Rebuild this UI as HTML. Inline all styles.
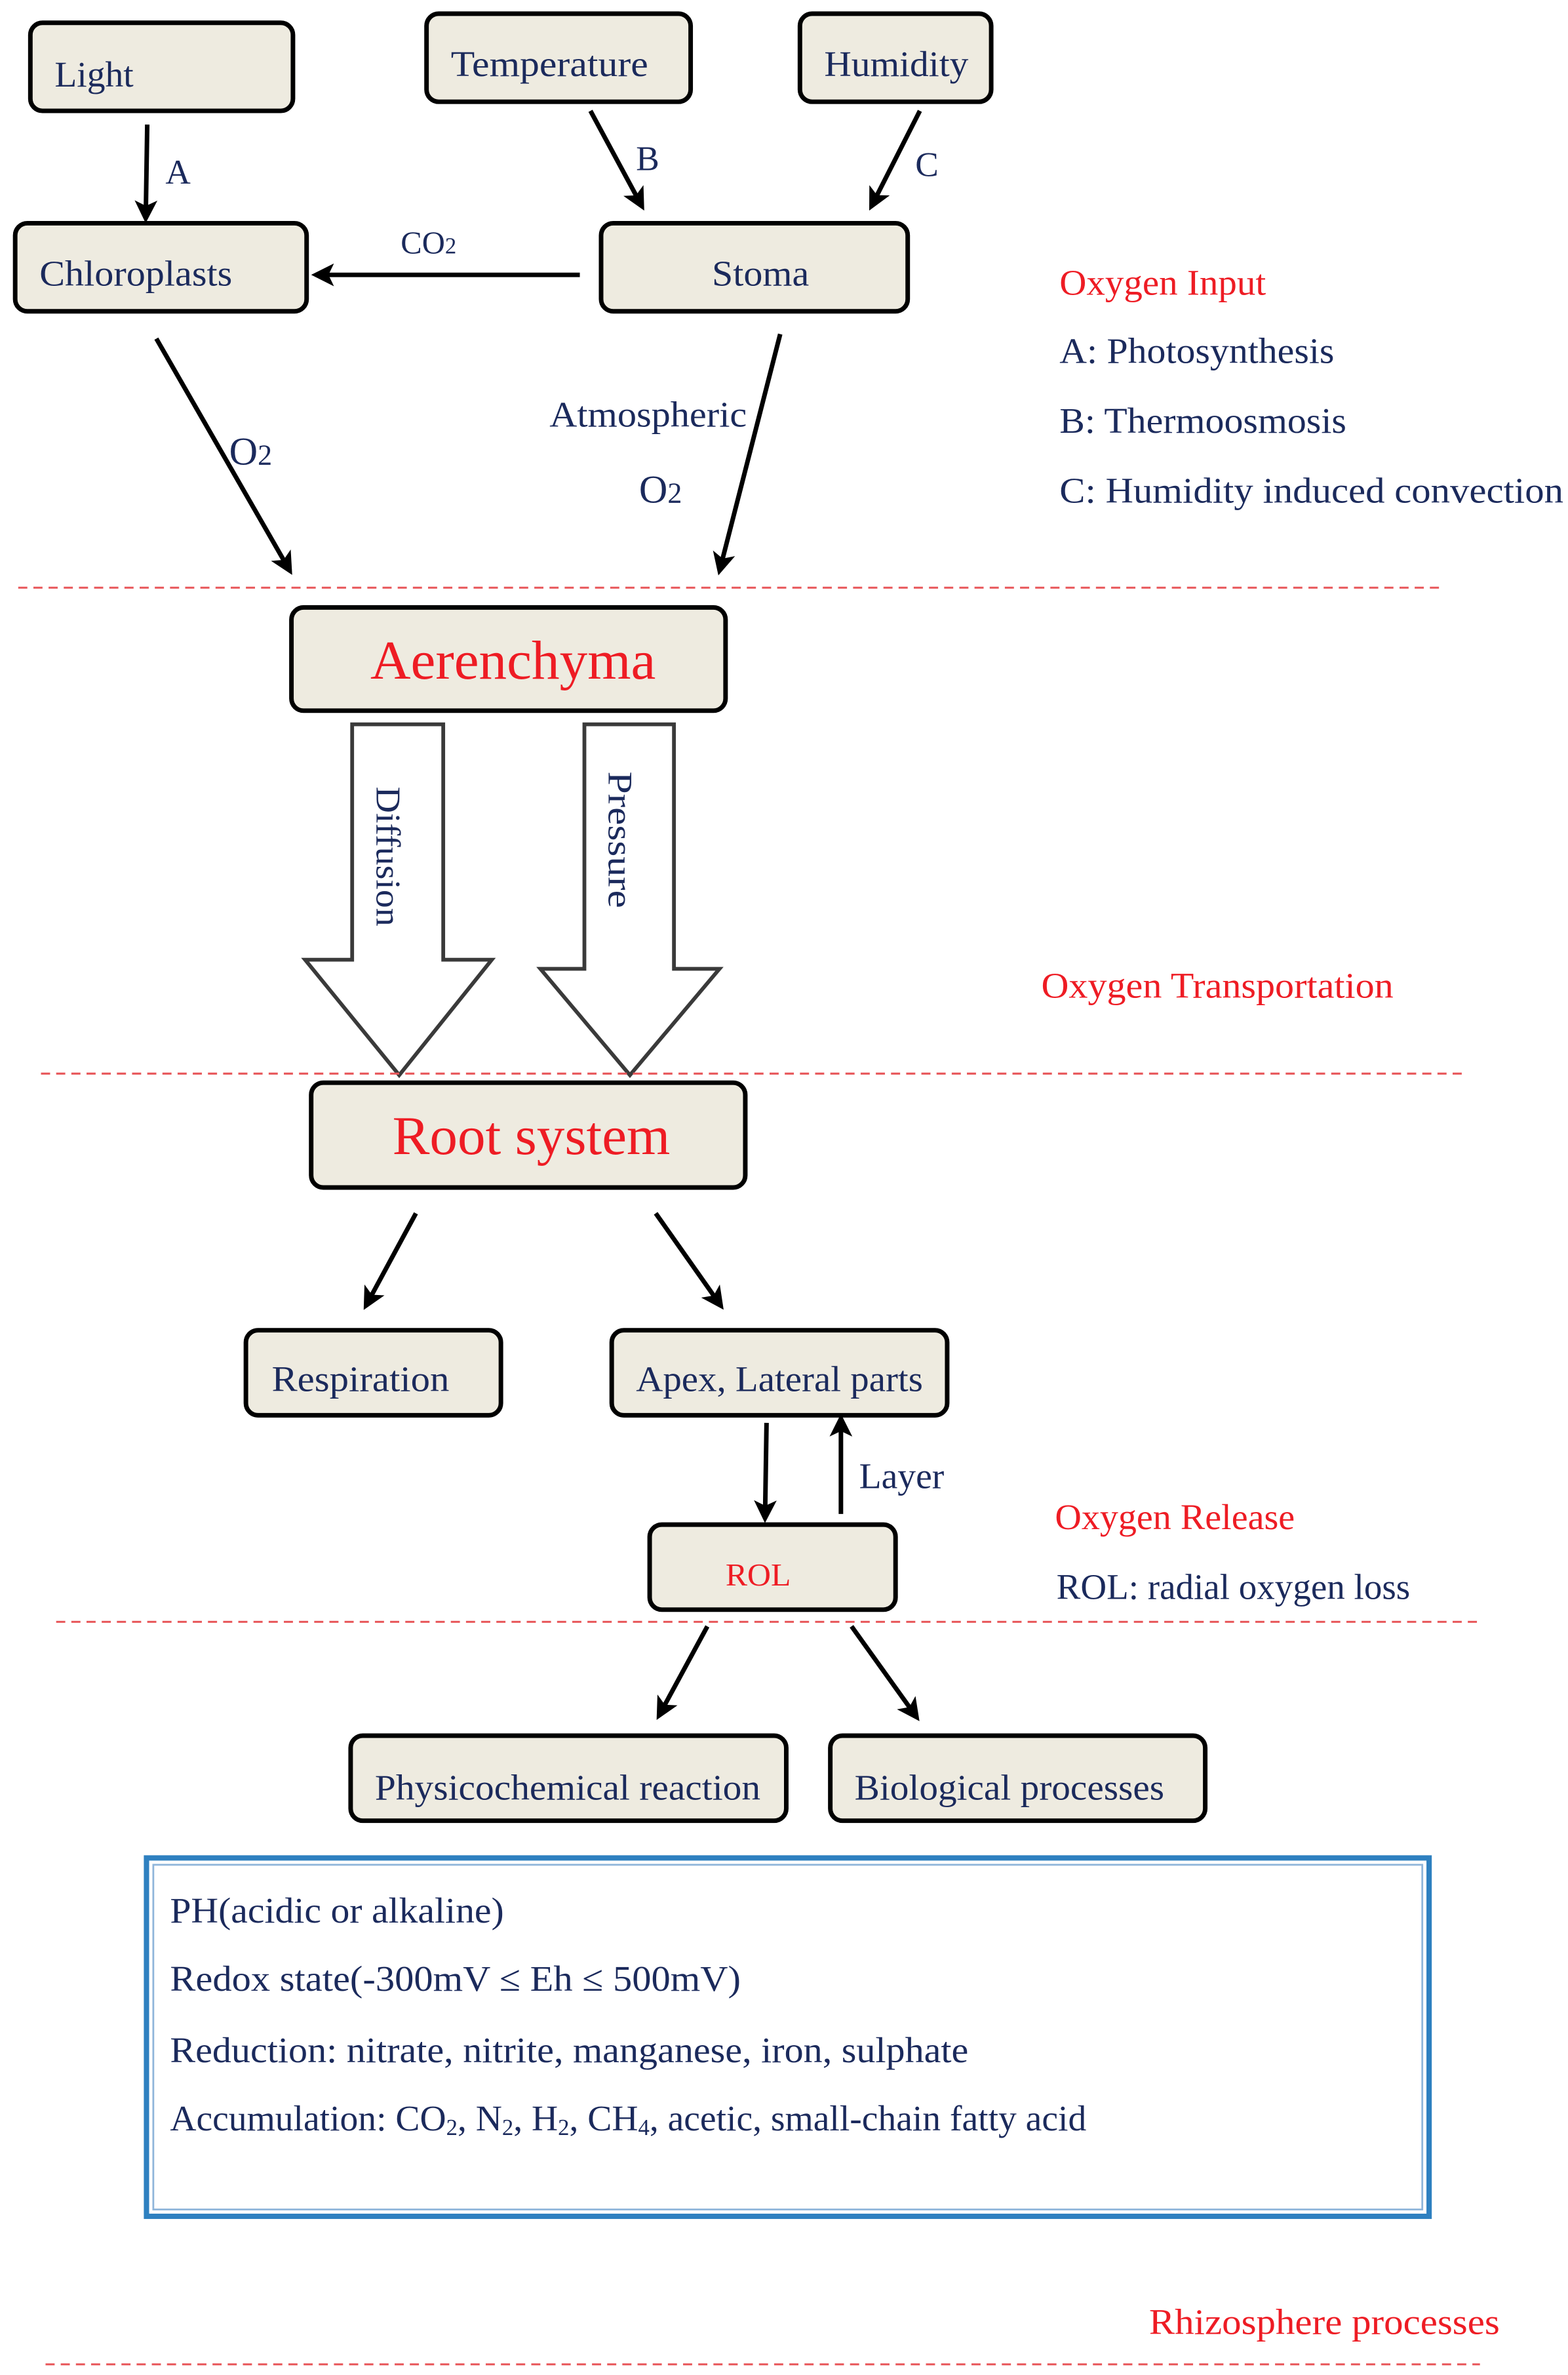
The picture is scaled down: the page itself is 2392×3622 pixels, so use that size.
<!DOCTYPE html>
<html><head><meta charset="utf-8"><style>
html,body{margin:0;padding:0;background:#fff;}
svg{display:block;}
text{font-family:"Liberation Serif",serif;fill:#1b2a5c;}
.r{fill:#ee1c24;}
.b{fill:#eeebe0;stroke:#000;stroke-width:3;}
.a{stroke:#000;stroke-width:3;fill:none;marker-end:url(#ah);}
.d{stroke:#e8575a;stroke-width:1.3;stroke-dasharray:6,4;}
</style></head><body>
<svg width="2392" height="3622" viewBox="0 0 1033 1564" preserveAspectRatio="none" xmlns="http://www.w3.org/2000/svg">
<defs><marker id="ah" markerWidth="5" markerHeight="5" refX="4" refY="2.5" orient="auto" markerUnits="strokeWidth"><path d="M0,0 L5,2.5 L0,5 L1.2,2.5 z" fill="#000"/></marker></defs>

<rect class="b" x="20" y="15" width="173" height="58" rx="8"/>
<text x="36" y="57" font-size="24" textLength="52" lengthAdjust="spacingAndGlyphs">Light</text>
<rect class="b" x="281" y="9" width="174" height="58" rx="8"/>
<text x="297" y="50" font-size="24" textLength="130" lengthAdjust="spacingAndGlyphs">Temperature</text>
<rect class="b" x="527" y="9" width="126" height="58" rx="8"/>
<text x="543" y="50" font-size="24" textLength="95" lengthAdjust="spacingAndGlyphs">Humidity</text>

<line class="a" x1="97" y1="82" x2="96" y2="144"/>
<text x="109" y="121" font-size="23">A</text>
<line class="a" x1="389" y1="73" x2="423" y2="136"/>
<text x="419" y="112" font-size="23">B</text>
<line class="a" x1="606" y1="73" x2="574" y2="136"/>
<text x="603" y="116" font-size="23">C</text>

<rect class="b" x="10" y="147" width="192" height="58" rx="8"/>
<text x="26" y="188" font-size="24" textLength="127" lengthAdjust="spacingAndGlyphs">Chloroplasts</text>
<rect class="b" x="396" y="147" width="202" height="58" rx="8"/>
<text x="469" y="188" font-size="24" textLength="64" lengthAdjust="spacingAndGlyphs">Stoma</text>

<line class="a" x1="382" y1="181" x2="208" y2="181"/>
<text x="264" y="167" font-size="21">CO<tspan font-size="15">2</tspan></text>

<line class="a" x1="103" y1="223" x2="191" y2="376"/>
<text x="151" y="306" font-size="26">O<tspan font-size="19">2</tspan></text>
<line class="a" x1="514" y1="220" x2="474" y2="376"/>
<text x="362" y="281" font-size="24" textLength="130" lengthAdjust="spacingAndGlyphs">Atmospheric</text>
<text x="421" y="331" font-size="26">O<tspan font-size="19">2</tspan></text>

<text class="r" x="698" y="194" font-size="24" textLength="136" lengthAdjust="spacingAndGlyphs">Oxygen Input</text>
<text x="698" y="239" font-size="24" textLength="181" lengthAdjust="spacingAndGlyphs">A: Photosynthesis</text>
<text x="698" y="285" font-size="24" textLength="189" lengthAdjust="spacingAndGlyphs">B: Thermoosmosis</text>
<text x="698" y="331" font-size="24" textLength="332" lengthAdjust="spacingAndGlyphs">C:   Humidity induced convection</text>

<line class="d" x1="12" y1="387" x2="950" y2="387"/>

<rect class="b" x="192" y="400" width="286" height="68" rx="8"/>
<text class="r" x="338" y="447" font-size="36" text-anchor="middle" textLength="188" lengthAdjust="spacingAndGlyphs">Aerenchyma</text>

<path d="M232,477 L292,477 L292,632 L324,632 L263,708 L201,632 L232,632 Z" fill="#fff" stroke="#3a3a3a" stroke-width="2.5"/>
<text transform="translate(248,564) rotate(90)" font-size="23" text-anchor="middle" textLength="92" lengthAdjust="spacingAndGlyphs">Diffusion</text>
<path d="M385,477 L444,477 L444,638 L474,638 L415,708 L356,638 L385,638 Z" fill="#fff" stroke="#3a3a3a" stroke-width="2.5"/>
<text transform="translate(401,553) rotate(90)" font-size="23" text-anchor="middle" textLength="90" lengthAdjust="spacingAndGlyphs">Pressure</text>

<text class="r" x="686" y="657" font-size="24" textLength="232" lengthAdjust="spacingAndGlyphs">Oxygen Transportation</text>
<line class="d" x1="27" y1="707" x2="965" y2="707"/>

<rect class="b" x="205" y="713" width="286" height="69" rx="8"/>
<text class="r" x="350" y="760" font-size="36" text-anchor="middle" textLength="183" lengthAdjust="spacingAndGlyphs">Root system</text>

<line class="a" x1="274" y1="799" x2="241" y2="860"/>
<line class="a" x1="432" y1="799" x2="475" y2="860"/>

<rect class="b" x="162" y="876" width="168" height="56" rx="8"/>
<text x="179" y="916" font-size="24" textLength="117" lengthAdjust="spacingAndGlyphs">Respiration</text>
<rect class="b" x="403" y="876" width="221" height="56" rx="8"/>
<text x="419" y="916" font-size="24" textLength="189" lengthAdjust="spacingAndGlyphs">Apex, Lateral parts</text>

<line class="a" x1="505" y1="937" x2="504" y2="1000"/>
<line class="a" x1="554" y1="997" x2="554" y2="934"/>
<text x="566" y="980" font-size="24" textLength="56" lengthAdjust="spacingAndGlyphs">Layer</text>

<rect class="b" x="428" y="1004" width="162" height="56" rx="8"/>
<text class="r" x="478" y="1044" font-size="21" textLength="43" lengthAdjust="spacingAndGlyphs">ROL</text>

<text class="r" x="695" y="1007" font-size="24" textLength="158" lengthAdjust="spacingAndGlyphs">Oxygen Release</text>
<text x="696" y="1053" font-size="24" textLength="233" lengthAdjust="spacingAndGlyphs">ROL: radial oxygen loss</text>

<line class="d" x1="37" y1="1068" x2="975" y2="1068"/>

<line class="a" x1="466" y1="1071" x2="434" y2="1130"/>
<line class="a" x1="561" y1="1071" x2="604" y2="1131"/>

<rect class="b" x="231" y="1143" width="287" height="56" rx="8"/>
<text x="247" y="1185" font-size="24" textLength="254" lengthAdjust="spacingAndGlyphs">Physicochemical reaction</text>
<rect class="b" x="547" y="1143" width="247" height="56" rx="8"/>
<text x="563" y="1185" font-size="24" textLength="204" lengthAdjust="spacingAndGlyphs">Biological processes</text>

<rect x="96.5" y="1223.5" width="845" height="236" fill="#fff" stroke="#2e80c0" stroke-width="3.5"/>
<rect x="101" y="1228" width="836" height="227" fill="none" stroke="#8fb5da" stroke-width="1.2"/>
<text x="112" y="1266" font-size="24" textLength="220" lengthAdjust="spacingAndGlyphs">PH(acidic or alkaline)</text>
<text x="112" y="1311" font-size="24" textLength="376" lengthAdjust="spacingAndGlyphs">Redox state(-300mV ≤ Eh ≤ 500mV)</text>
<text x="112" y="1358" font-size="24" textLength="526" lengthAdjust="spacingAndGlyphs">Reduction: nitrate, nitrite, manganese, iron, sulphate</text>
<text x="112" y="1403" font-size="24">Accumulation: CO<tspan font-size="15" dy="3">2</tspan><tspan dy="-3">, N</tspan><tspan font-size="15" dy="3">2</tspan><tspan dy="-3">, H</tspan><tspan font-size="15" dy="3">2</tspan><tspan dy="-3">, CH</tspan><tspan font-size="15" dy="3">4</tspan><tspan dy="-3">, acetic, small-chain fatty acid</tspan></text>

<text class="r" x="757" y="1537" font-size="24" textLength="231" lengthAdjust="spacingAndGlyphs">Rhizosphere processes</text>
<line class="d" x1="30" y1="1557" x2="975" y2="1557"/>
</svg>
</body></html>
